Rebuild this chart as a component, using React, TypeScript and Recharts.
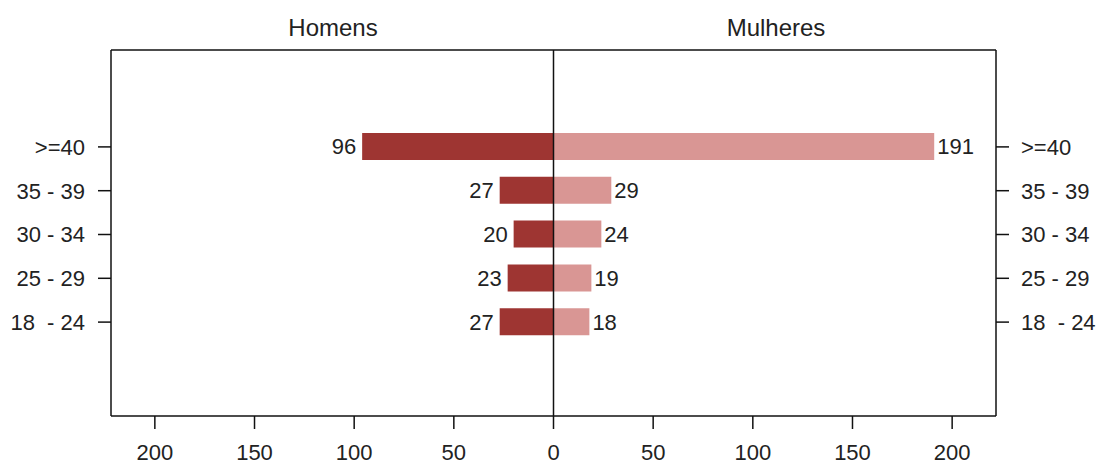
import React from "react";
import {
  BarChart,
  Bar,
  XAxis,
  YAxis,
  ReferenceLine,
  LabelList,
} from "recharts";

const faixas = [">=40", "35 - 39", "30 - 34", "25 - 29", "18\u00a0 - 24"];
const homens = [96, 27, 20, 23, 27];
const mulheres = [191, 29, 24, 19, 18];
const xTicks = [-200, -150, -100, -50, 0, 50, 100, 150, 200];

const data = faixas.map((faixa, i) => ({
  faixa,
  homens: -homens[i],
  mulheres: mulheres[i],
}));

const FONT = "'Liberation Sans', Arial, sans-serif";
const TEXT = "#222";

const LeftLabel = (props: any) => {
  const { x, y, width, height, value } = props;
  const left = Math.min(x, x + width);
  return (
    <text
      x={left - 6}
      y={y + height / 2}
      dy="0.355em"
      textAnchor="end"
      fontSize={22}
      fill={TEXT}
    >
      {Math.abs(value)}
    </text>
  );
};

const RightLabel = (props: any) => {
  const { x, y, width, height, value } = props;
  const right = Math.max(x, x + width);
  return (
    <text
      x={right + 3}
      y={y + height / 2}
      dy="0.355em"
      textAnchor="start"
      fontSize={22}
      fill={TEXT}
    >
      {Math.abs(value)}
    </text>
  );
};

const titleStyle: React.CSSProperties = {
  position: "absolute",
  top: 16,
  fontSize: 24,
  lineHeight: "24px",
  color: TEXT,
  transform: "translateX(-50%)",
  whiteSpace: "nowrap",
};

const axisStroke = { stroke: "#111", strokeWidth: 1.5 };

export default function App() {
  return (
    <div
      style={{
        position: "absolute",
        left: 0,
        top: 0,
        width: 1098,
        height: 466,
        background: "#fff",
        fontFamily: FONT,
      }}
    >
      <div style={{ ...titleStyle, left: 333 }}>Homens</div>
      <div style={{ ...titleStyle, left: 776 }}>Mulheres</div>
      <BarChart
        width={1098}
        height={466}
        data={data}
        layout="vertical"
        stackOffset="sign"
        margin={{ top: 49, right: 12, bottom: 0, left: 11 }}
      >
        <XAxis
          type="number"
          domain={[-222, 222]}
          ticks={xTicks}
          allowDataOverflow
          tickFormatter={(v: number) => String(Math.abs(v))}
          height={50}
          tickSize={13}
          tickMargin={15}
          axisLine={axisStroke}
          tickLine={axisStroke}
          tick={{ fill: TEXT, fontSize: 22 }}
        />
        <XAxis
          xAxisId="top"
          orientation="top"
          type="number"
          domain={[-222, 222]}
          allowDataOverflow
          height={1}
          tick={false}
          tickLine={false}
          axisLine={axisStroke}
        />
        <YAxis
          type="category"
          dataKey="faixa"
          width={100}
          padding={{ top: 75, bottom: 72 }}
          tickSize={13}
          tickMargin={13}
          axisLine={axisStroke}
          tickLine={axisStroke}
          tick={{ fill: TEXT, fontSize: 22 }}
        />
        <YAxis
          yAxisId="right"
          orientation="right"
          type="category"
          dataKey="faixa"
          width={90}
          padding={{ top: 75, bottom: 72 }}
          tickSize={13}
          tickMargin={12}
          axisLine={axisStroke}
          tickLine={axisStroke}
          tick={{ fill: TEXT, fontSize: 22, textAnchor: "start" }}
        />
        <Bar
          dataKey="homens"
          stackId="a"
          fill="#9E3532"
          barSize={27}
          isAnimationActive={false}
        >
          <LabelList dataKey="homens" content={LeftLabel} />
        </Bar>
        <Bar
          dataKey="mulheres"
          stackId="a"
          fill="#D99694"
          barSize={27}
          isAnimationActive={false}
        >
          <LabelList dataKey="mulheres" content={RightLabel} />
        </Bar>
        <ReferenceLine x={0} stroke="#111" strokeWidth={1.5} />
      </BarChart>
    </div>
  );
}
